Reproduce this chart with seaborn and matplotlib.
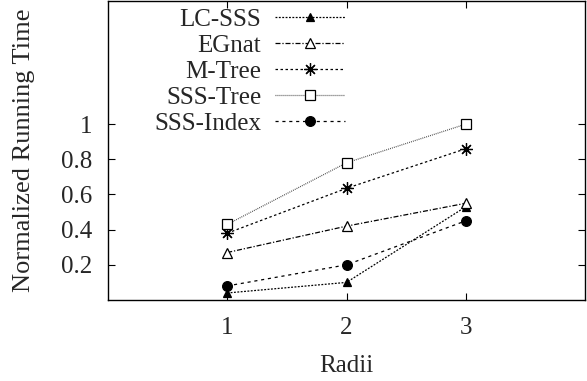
import matplotlib
matplotlib.use("Agg")
import matplotlib.pyplot as plt
import seaborn as sns
import pandas as pd

radii = [1, 2, 3]
lc_sss = [0.04, 0.10, 0.53]
egnat = [0.27, 0.42, 0.55]
m_tree = [0.38, 0.635, 0.86]
sss_tree = [0.43, 0.78, 1.0]
sss_index = [0.08, 0.20, 0.45]

series_names = ["LC-SSS", "EGnat", "M-Tree", "SSS-Tree", "SSS-Index"]
series_vals = [lc_sss, egnat, m_tree, sss_tree, sss_index]

rows = []
for name, vals in zip(series_names, series_vals):
    for x, y in zip(radii, vals):
        rows.append({"Radii": x, "value": y, "method": name})
df = pd.DataFrame(rows)

sns.set_theme(style="white")
plt.rcParams["font.family"] = ["Liberation Serif", "DejaVu Serif"]

fig = plt.figure(figsize=(5.87, 3.81), dpi=100)
ax = fig.add_axes([108 / 587, 1 - 300 / 381, 477 / 587, 299 / 381])

styles = {
    "LC-SSS": dict(marker="^", mfc="black", ls=(0, (1.5, 1.2)), ms=6, c="black"),
    "EGnat": dict(marker="^", mfc="white", ls=(0, (4, 1.5, 1, 1.5)), ms=7, c="black"),
    "M-Tree": dict(marker=(8, 2, 0), mfc="black", ls=(0, (2, 2)), ms=9, c="black"),
    "SSS-Tree": dict(marker="s", mfc="white", ls=(0, (0.7, 0.9)), ms=7, c="#444444"),
    "SSS-Index": dict(marker="o", mfc="black", ls=(0, (2.5, 3)), ms=7, c="black"),
}

for name in series_names:
    st = styles[name]
    sub = df[df["method"] == name]
    sns.lineplot(data=sub, x="Radii", y="value", ax=ax, color=st["c"],
                 linewidth=0.9, marker=st["marker"], markersize=st["ms"],
                 markerfacecolor=st["mfc"], markeredgecolor="black",
                 markeredgewidth=0.9, linestyle=st["ls"], label=name)

ax.set_xlim(0, 4)
ax.set_ylim(0, 1.70)
ax.set_xticks(radii)
ax.set_xticklabels(["1", "2", "3"])
ax.set_yticks([0.2, 0.4, 0.6, 0.8, 1.0])
ax.set_yticklabels(["0.2", "0.4", "0.6", "0.8", "1"])
ax.tick_params(direction="in", length=5, width=0.8, labelsize=18, color="black",
               top=True, right=True, bottom=True, left=True)
ax.tick_params(axis="x", pad=12)
ax.tick_params(axis="y", pad=11)
for s in ax.spines.values():
    s.set_color("black")
    s.set_linewidth(1.0)

ax.set_xlabel("Radii", fontsize=18, labelpad=12)
ax.set_ylabel("Normalized Running Time", fontsize=19, labelpad=19)

leg = ax.legend(loc="upper right", bbox_to_anchor=(0.502, 0.983), frameon=False,
                markerfirst=False, fontsize=18, handlelength=2.8,
                handletextpad=0.55, labelspacing=0.14, borderaxespad=0.0,
                borderpad=0.1)

fig.savefig("out.png", dpi=100)
